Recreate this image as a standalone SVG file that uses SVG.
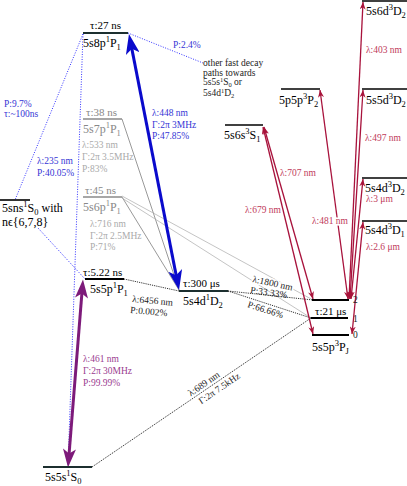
<svg xmlns="http://www.w3.org/2000/svg" width="407" height="486" viewBox="0 0 407 486">
<defs>
<style>
text{font-family:"Liberation Serif","Times New Roman","DejaVu Serif",serif;}
.lv{font-size:12px;fill:#000}
.lvg{font-size:12px;fill:#888}
.tau{font-size:11px;fill:#000}
.taug{font-size:11px;fill:#888}
.sm{font-size:9.5px}
.sup{font-size:8.5px}
.sups{font-size:6.5px}
.bl{fill:#3535d5}
.gr{fill:#aaa}
.pu{fill:#9a3b8f}
.rd{fill:#c03a5a}
.bk{fill:#222}
.lev{stroke:#000;stroke-width:2}
.levt{stroke:#000;stroke-width:1.6}
.levd{stroke:#1c2f2f;stroke-width:2.2}
.levg{stroke:#8a8a8a;stroke-width:1.6}
.dotb{stroke:#3333ff;stroke-width:1;stroke-dasharray:1 1.5;fill:none}
.dotk{stroke:#000;stroke-width:0.8;stroke-dasharray:1.2 1;fill:none}
.gl{stroke:#999;stroke-width:1;fill:none}
.gt{stroke:#aaa;stroke-width:0.7;fill:none}
.red{stroke:#a8123c;stroke-width:1.3;fill:none;marker-start:url(#ar);marker-end:url(#ar)}
.halo{stroke:#fff;stroke-width:3;paint-order:stroke}
</style>
<marker id="ar" viewBox="0 0 10 8" refX="10" refY="4" markerWidth="8" markerHeight="6" markerUnits="userSpaceOnUse" orient="auto-start-reverse"><path d="M0,0 L10,4 L0,8 L3,4 z" fill="#a8133a"/></marker>
<marker id="ab" viewBox="0 0 20 14" refX="12" refY="7" markerWidth="20" markerHeight="14" markerUnits="userSpaceOnUse" orient="auto-start-reverse"><path d="M0,0 L20,7 L0,14 L5,7 z" fill="#0a0acc"/></marker>
<marker id="ap" viewBox="0 0 20 14" refX="12" refY="7" markerWidth="19" markerHeight="13" markerUnits="userSpaceOnUse" orient="auto-start-reverse"><path d="M0,0 L20,7 L0,14 L5,7 z" fill="#7d1a7a"/></marker>
</defs>
<rect width="407" height="486" fill="#fff"/>

<g id="connectors">
  <path class="dotb" d="M83,34 L68,467"/>
  <path class="dotb" d="M83,34 L15,200"/>
  <path class="dotb" d="M38,228 L85,279"/>
  <path class="dotb" d="M128,33 L203,63"/>
  <path class="gl" d="M122,119 L179,290"/>
  <path class="gl" d="M122,197 L179,290"/>
  <path class="gt" d="M122,196 L313,300"/>
  <path class="gt" d="M122,198 L311,318"/>
  <path class="dotk" d="M124,279 L179,291"/>
  <path class="dotk" d="M228,291 L313,300"/>
  <path class="dotk" d="M228,291 L311,318"/>
  <path class="dotk" d="M92,467 L311,318"/>
  <path d="M130.5,41.9 L177.5,282.1" stroke="#0a0acc" stroke-width="3" fill="none" marker-start="url(#ab)" marker-end="url(#ab)"/>
  <path d="M68.6,460 L82.4,287" stroke="#7d1a7a" stroke-width="3" fill="none" marker-start="url(#ap)" marker-end="url(#ap)"/>
  <path class="red" d="M264,127 L313,299"/>
  <path class="red" d="M263,127 L313,334"/>
  <path class="red" d="M320,90 L348,299"/>
  <path class="red" d="M363,2 L349,299"/>
  <path class="red" d="M363,90 L350,299"/>
  <path class="red" d="M363,179 L351,299"/>
  <path class="red" d="M363,222 L352,334"/>

  <text class="sm bl" x="4" y="107">P:9.7%</text>
  <text class="sm bl" x="4" y="117">τ:~100ns</text>
  <text class="sm bl" x="37" y="164">λ:235 nm</text>
  <text class="sm bl" x="37" y="176">P:40.05%</text>
  <text class="sm bl" x="173" y="48">P:2.4%</text>
  <text class="sm bl" x="152" y="116">λ:448 nm</text>
  <text class="sm bl" x="152" y="127.5">Γ:2π 3MHz</text>
  <text class="sm bl" x="152" y="139">P:47.85%</text>
  <text class="sm gr" x="82" y="148">λ:533 nm</text>
  <text class="sm gr" x="82" y="160">Γ:2π 3.5MHz</text>
  <text class="sm gr" x="82" y="172">P:83%</text>
  <text class="sm gr" x="90" y="227">λ:716 nm</text>
  <text class="sm gr" x="90" y="239">Γ:2π 2.5MHz</text>
  <text class="sm gr" x="90" y="250">P:71%</text>
  <text class="sm bk" x="132" y="302" transform="rotate(5 132 302)">λ:6456 nm</text>
  <text class="sm bk" x="130" y="313" transform="rotate(5 130 313)">P:0.002%</text>
  <text class="sm bk halo" x="252" y="282" transform="rotate(12 252 282)">λ:1800 nm</text>
  <text class="sm bk" x="250" y="293" transform="rotate(8 250 293)">P:33.33%</text>
  <text class="sm bk" x="247" y="307" transform="rotate(18 247 307)">P:66.66%</text>
  <g transform="translate(207,388.4) rotate(-34.35)">
    <text class="sm bk" x="0" y="-2.5" text-anchor="middle">λ:689 nm</text>
    <text class="sm bk" x="10" y="10" text-anchor="middle">Γ:2π 7.5kHz</text>
  </g>
  <text class="sm pu" x="83" y="362">λ:461 nm</text>
  <text class="sm pu" x="83" y="374">Γ:2π 30MHz</text>
  <text class="sm pu" x="83" y="386">P:99.99%</text>
  <text class="sm rd" x="366" y="53">λ:403 nm</text>
  <text class="sm rd" x="365" y="141">λ:497 nm</text>
  <text class="sm rd" x="366" y="202">λ:3 μm</text>
  <text class="sm rd" x="366" y="250">λ:2.6 μm</text>
  <text class="sm rd" x="280" y="176">λ:707 nm</text>
  <text class="sm rd" x="245" y="213">λ:679 nm</text>
  <text class="sm rd halo" x="312" y="224">λ:481 nm</text>
</g>

<g id="n5s8p1P1">
  <line class="levd" x1="83" y1="33" x2="128" y2="33"/>
  <text class="tau" x="90" y="29">τ:27 ns</text>
  <text class="lv" x="83" y="47">5s8p<tspan class="sup" dy="-5">1</tspan><tspan dy="5">P</tspan><tspan class="sup" dy="2.5">1</tspan></text>
</g>
<g id="n5s7p1P1">
  <line class="levg" x1="83" y1="119" x2="122" y2="119"/>
  <text class="taug" x="86" y="116">τ:38 ns</text>
  <text class="lvg" x="83" y="133">5s7p<tspan class="sup" dy="-5">1</tspan><tspan dy="5">P</tspan><tspan class="sup" dy="2.5">1</tspan></text>
</g>
<g id="n5s6p1P1">
  <line class="levg" x1="83" y1="197" x2="122" y2="197"/>
  <text class="taug" x="85" y="194">τ:45 ns</text>
  <text class="lvg" x="83" y="211">5s6p<tspan class="sup" dy="-5">1</tspan><tspan dy="5">P</tspan><tspan class="sup" dy="2.5">1</tspan></text>
</g>
<g id="n5sns1S0">
  <line class="levt" x1="0" y1="200" x2="30" y2="200"/>
  <text class="lv" x="2" y="212">5sns<tspan class="sup" dy="-5">1</tspan><tspan dy="5">S</tspan><tspan class="sup" dy="2.5">0</tspan><tspan dy="-2.5"> with</tspan></text>
  <text class="lv" x="2" y="226">nϵ{6,7,8}</text>
</g>
<g id="other">
  <text class="sm bk" x="203" y="66">other fast decay</text>
  <text class="sm bk" x="203" y="75.5">paths towards</text>
  <text class="sm bk" x="203" y="85">5s5s<tspan class="sups" dy="-3.5">1</tspan><tspan dy="3.5">S</tspan><tspan class="sups" dy="1.5">0</tspan><tspan dy="-1.5"> or</tspan></text>
  <text class="sm bk" x="203" y="96">5s4d<tspan class="sups" dy="-3">1</tspan><tspan dy="3">D</tspan><tspan class="sups" dy="1.5">2</tspan></text>
</g>
<g id="n5s5p1P1">
  <line class="lev" x1="85" y1="279" x2="124" y2="279"/>
  <text class="tau" x="83" y="276">τ:5.22 ns</text>
  <text class="lv" x="90" y="293">5s5p<tspan class="sup" dy="-5">1</tspan><tspan dy="5">P</tspan><tspan class="sup" dy="2.5">1</tspan></text>
</g>
<g id="n5s4d1D2">
  <line class="levd" x1="179" y1="291" x2="228" y2="291"/>
  <text class="tau" x="183" y="287">τ:300 μs</text>
  <text class="lv" x="183" y="305">5s4d<tspan class="sup" dy="-5">1</tspan><tspan dy="5">D</tspan><tspan class="sup" dy="2.5">2</tspan></text>
</g>
<g id="n5s5s1S0">
  <line class="levd" x1="43" y1="467" x2="92" y2="467"/>
  <text class="lv" x="45" y="481">5s5s<tspan class="sup" dy="-5">1</tspan><tspan dy="5">S</tspan><tspan class="sup" dy="2.5">0</tspan></text>
</g>
<g id="n5s5p3PJ">
  <line class="lev" x1="312" y1="300" x2="349" y2="300"/>
  <line class="lev" x1="311" y1="318" x2="348" y2="318"/>
  <line class="lev" x1="312" y1="335" x2="349" y2="335"/>
  <text class="sm bk" x="353" y="303">2</text>
  <text class="sm bk" x="353" y="322">1</text>
  <text class="sm bk" x="353" y="338">0</text>
  <text class="tau" x="315" y="315">τ:21 μs</text>
  <text class="lv" x="312" y="351">5s5p<tspan class="sup" dy="-5">3</tspan><tspan dy="5">P</tspan><tspan class="sup" dy="2.5">J</tspan></text>
</g>
<g id="n5s6s3S1">
  <line class="levt" x1="225" y1="125" x2="263" y2="125"/>
  <text class="lv" x="224" y="139">5s6s<tspan class="sup" dy="-5">3</tspan><tspan dy="5">S</tspan><tspan class="sup" dy="2.5">1</tspan></text>
</g>
<g id="n5p5p3P2">
  <line class="levt" x1="281" y1="89" x2="320" y2="89"/>
  <text class="lv" x="279" y="104">5p5p<tspan class="sup" dy="-5">3</tspan><tspan dy="5">P</tspan><tspan class="sup" dy="2.5">2</tspan></text>
</g>
<g id="n5s6d3D2">
  <line class="levt" x1="362" y1="1" x2="407" y2="1"/>
  <text class="lv" x="366" y="15">5s6d<tspan class="sup" dy="-5">3</tspan><tspan dy="5">D</tspan><tspan class="sup" dy="2.5">2</tspan></text>
</g>
<g id="n5s5d3D2">
  <line class="levt" x1="362" y1="89" x2="407" y2="89"/>
  <text class="lv" x="366" y="104">5s5d<tspan class="sup" dy="-5">3</tspan><tspan dy="5">D</tspan><tspan class="sup" dy="2.5">2</tspan></text>
</g>
<g id="n5s4d3D2">
  <line class="levt" x1="362" y1="178" x2="407" y2="178"/>
  <text class="lv" x="365" y="192">5s4d<tspan class="sup" dy="-5">3</tspan><tspan dy="5">D</tspan><tspan class="sup" dy="2.5">2</tspan></text>
</g>
<g id="n5s4d3D1">
  <line class="levt" x1="362" y1="221" x2="407" y2="221"/>
  <text class="lv" x="365" y="234">5s4d<tspan class="sup" dy="-5">3</tspan><tspan dy="5">D</tspan><tspan class="sup" dy="2.5">1</tspan></text>
</g>
</svg>
